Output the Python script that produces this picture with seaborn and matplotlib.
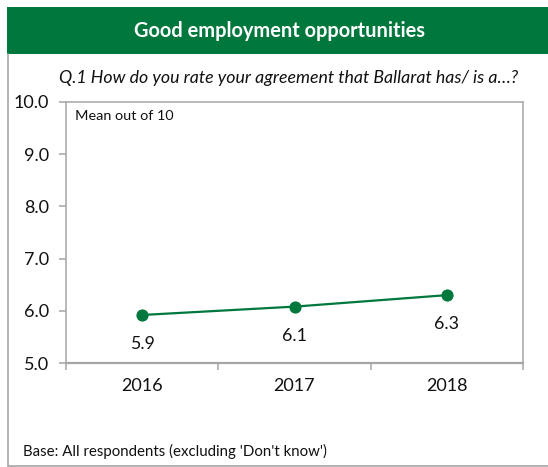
import matplotlib
matplotlib.use("Agg")
import matplotlib.pyplot as plt
from matplotlib.patches import Rectangle
from matplotlib.lines import Line2D
from matplotlib.ticker import FixedLocator
import pandas as pd
import seaborn as sns

# Data
years = ["2016", "2017", "2018"]
mean_scores = [5.92, 6.08, 6.30]
y_ticks = [5.0, 6.0, 7.0, 8.0, 9.0, 10.0]

title = "Good employment opportunities"
question = "Q.1 How do you rate your agreement that Ballarat has/ is a\u2026?"
axis_note = "Mean out of 10"
base_note = "Base: All respondents (excluding 'Don't know')"

GREEN = "#00773C"
GREY = "#A6A6A6"

sns.set_theme(style="white")
plt.rcParams["font.family"] = ["Lato", "DejaVu Sans"]

W, H = 548, 467
fig = plt.figure(figsize=(W / 100, H / 100), dpi=100)
fig.patch.set_facecolor("white")


def fx(px):
    return px / W


def fy(py):
    return 1 - py / H


# Header banner
fig.patches.append(Rectangle((fx(7), fy(54)), fx(W) - fx(7), fy(7) - fy(54),
                             transform=fig.transFigure, facecolor=GREEN,
                             edgecolor="none", zorder=0))
fig.text(fx(280), fy(31), title, color="white", fontsize=14.4,
         fontweight="bold", ha="center", va="center")

# Outer frame (left and bottom edges)
fig.lines.append(Line2D([fx(7.5), fx(7.5)], [fy(54), fy(465.5)],
                        transform=fig.transFigure, color=GREY, lw=1.2))
fig.lines.append(Line2D([fx(7.5), fx(W)], [fy(465.5), fy(465.5)],
                        transform=fig.transFigure, color=GREY, lw=1.2))

fig.text(fx(289), fy(78), question, fontsize=12.8, style="italic",
         ha="center", va="center", color="#111111")
fig.text(fx(23), fy(451), base_note, fontsize=10.8, ha="left", va="center",
         color="#111111")

# Plot area
ax = fig.add_axes([fx(66), fy(363), fx(523) - fx(66), fy(102) - fy(363)])
df = pd.DataFrame({"year": years, "score": mean_scores})
sns.lineplot(data=df, x="year", y="score", ax=ax, color=GREEN, lw=1.6,
             marker="o", markersize=8, markeredgecolor=GREEN, sort=False)

for i, v in enumerate(mean_scores):
    ax.annotate(f"{v:.1f}", (i, v), xytext=(0, -21), textcoords="offset points",
                ha="center", va="center", fontsize=12.8, color="#111111")

ax.set_xlim(-0.5, len(years) - 0.5)
ax.set_ylim(y_ticks[0], y_ticks[-1])
ax.set_yticks(y_ticks)
ax.set_yticklabels([f"{t:.1f}" for t in y_ticks], fontsize=13, color="#111111")
ax.set_xticks(range(len(years)))
ax.set_xticklabels(years, fontsize=13, color="#111111")
ax.xaxis.set_minor_locator(FixedLocator([i - 0.5 for i in range(len(years) + 1)]))
ax.tick_params(axis="x", which="major", length=0, pad=11)
ax.tick_params(axis="x", which="minor", length=5, width=1.1, color=GREY,
               direction="out", bottom=True)
ax.tick_params(axis="y", which="major", length=5, width=1.1, color=GREY,
               direction="out", left=True, pad=7)
ax.set_xlabel("")
ax.set_ylabel("")
for side in ["left", "right", "top", "bottom"]:
    ax.spines[side].set_visible(True)
    ax.spines[side].set_color(GREY)
    ax.spines[side].set_linewidth(1.1)
ax.spines["bottom"].set_linewidth(1.6)
ax.grid(False)

fig.text(fx(75), fy(116), axis_note, fontsize=10.4, ha="left", va="center",
         color="#111111")

fig.savefig("out.png", dpi=100)
